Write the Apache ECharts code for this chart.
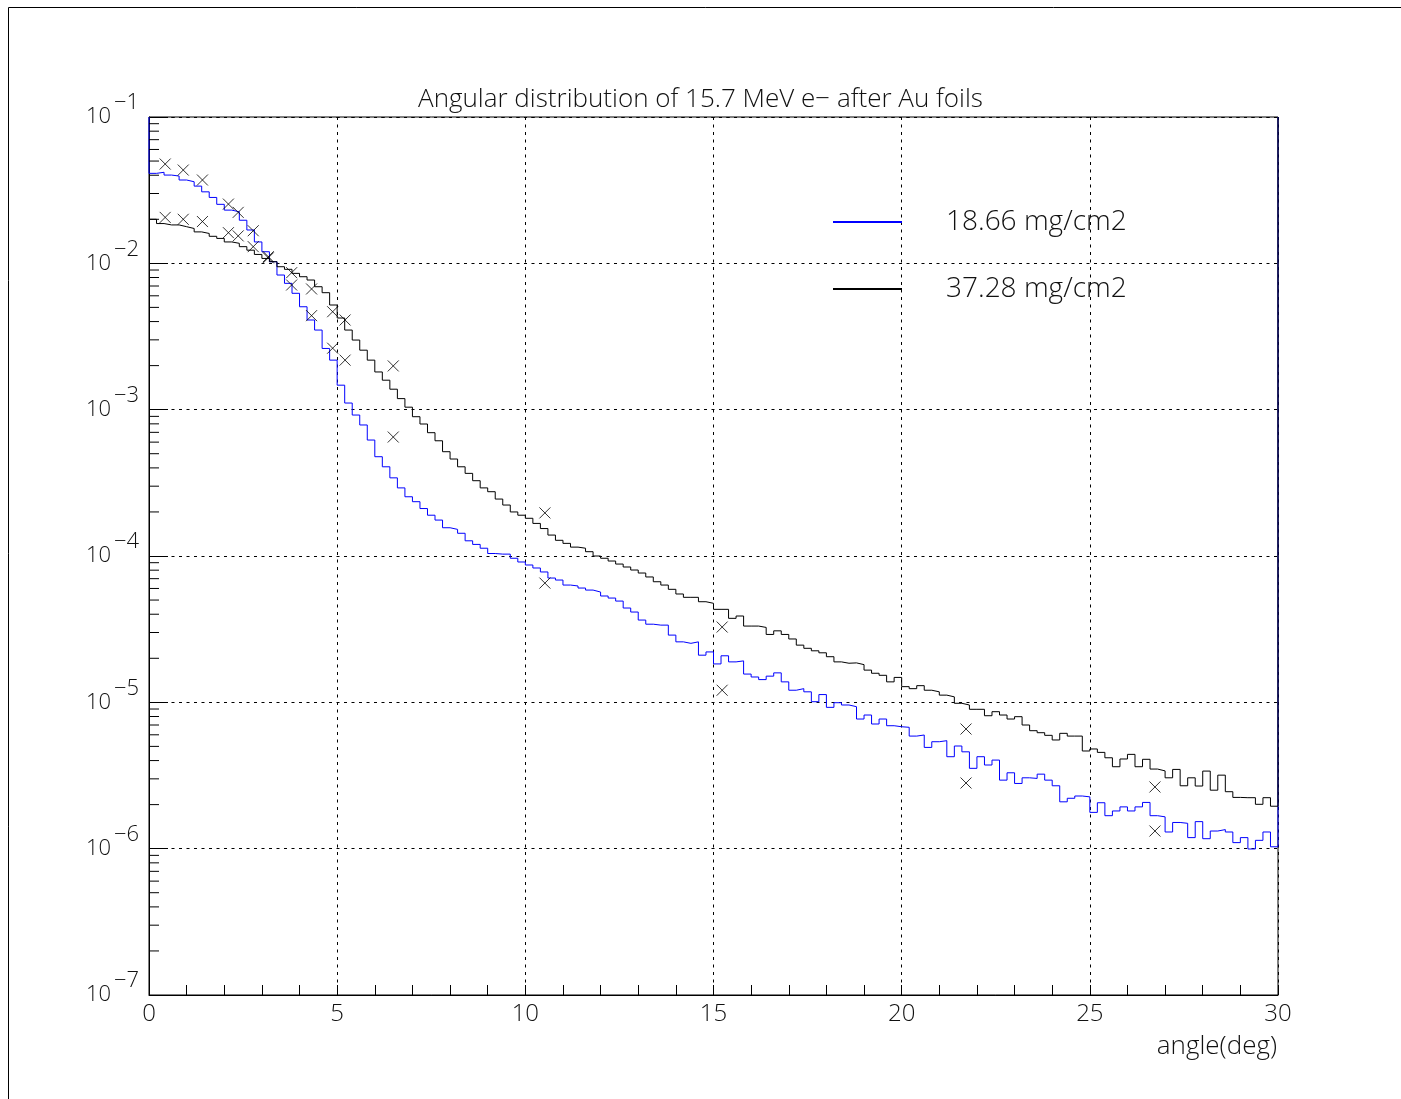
<!DOCTYPE html>
<html><head><meta charset="utf-8">
<script src="https://cdn.jsdelivr.net/npm/echarts@6/dist/echarts.min.js"></script>
<style>html,body{margin:0;padding:0;background:#fff}#c{width:1401px;height:1099px}</style>
</head><body><div id="c"></div>
<script>
// ---- data ----
const legendLabels = ['18.66 mg/cm2', '37.28 mg/cm2'];
const BIN_WIDTH = 0.2; // histogram bin width (deg), 150 bins over 0..30
const contourClose = 0.1; // histogram contours run up to the top of the frame at the edges
const histThin = [
0.0412,0.0419,0.0401,0.0395,0.0371,0.0361,0.0337,0.0308,0.0282,0.0253,
0.0231,0.0225,0.0197,0.0169,0.0140,0.0120,0.01026,0.00832,0.00730,0.00624,
0.00505,0.00410,0.00350,0.00262,0.00218,0.00147,0.00111,0.000919,0.000786,0.000620,
0.000477,0.000407,0.000342,0.000292,0.000254,0.000235,0.000211,0.000190,0.000176,0.000156,
0.000152,0.000143,0.000127,0.000120,0.000113,0.000104,0.000103,0.000103,9.65e-5,9.10e-5,
8.68e-5,8.28e-5,7.78e-5,7.07e-5,6.85e-5,6.33e-5,6.24e-5,6.04e-5,5.85e-5,5.67e-5,
5.33e-5,5.16e-5,4.92e-5,4.41e-5,4.14e-5,3.65e-5,3.42e-5,3.37e-5,3.37e-5,2.88e-5,
2.59e-5,2.53e-5,2.59e-5,2.10e-5,2.21e-5,1.83e-5,2.08e-5,1.89e-5,1.92e-5,1.56e-5,
1.49e-5,1.43e-5,1.51e-5,1.59e-5,1.38e-5,1.21e-5,1.24e-5,1.18e-5,1.01e-5,1.13e-5,
9.24e-6,9.94e-6,9.59e-6,9.34e-6,7.69e-6,8.19e-6,7.11e-6,7.69e-6,6.92e-6,6.81e-6,
6.75e-6,5.88e-6,5.98e-6,4.92e-6,5.38e-6,5.47e-6,4.25e-6,5.03e-6,4.59e-6,3.54e-6,
4.25e-6,3.73e-6,4.03e-6,2.94e-6,3.30e-6,2.79e-6,3.05e-6,3.02e-6,3.23e-6,2.94e-6,
2.69e-6,2.09e-6,2.21e-6,2.29e-6,2.26e-6,1.77e-6,2.06e-6,1.68e-6,1.81e-6,1.93e-6,
1.81e-6,1.93e-6,2.07e-6,1.68e-6,1.65e-6,1.30e-6,1.51e-6,1.49e-6,1.19e-6,1.53e-6,
1.17e-6,1.32e-6,1.35e-6,1.30e-6,1.10e-6,1.19e-6,9.95e-7,1.14e-6,1.30e-6,1.03e-6
];
const histThick = [
0.0200,0.0187,0.0183,0.0183,0.0178,0.0173,0.0164,0.0160,0.0153,0.0148,
0.0140,0.0137,0.0130,0.0123,0.0115,0.0108,0.01026,0.00948,0.00910,0.00854,
0.00810,0.00769,0.00692,0.00630,0.00519,0.00423,0.00350,0.00299,0.00255,0.00218,
0.00181,0.00159,0.00138,0.00119,0.00104,0.000895,0.000798,0.000696,0.000613,0.000516,
0.000460,0.000407,0.000367,0.000327,0.000292,0.000275,0.000245,0.000223,0.000200,0.000190,
0.000181,0.000167,0.000154,0.000139,0.000128,0.000122,0.000115,0.000113,0.000107,0.000100,
9.65e-5,9.24e-5,8.81e-5,8.41e-5,8.02e-5,7.65e-5,7.19e-5,6.67e-5,6.33e-5,5.92e-5,
5.50e-5,5.22e-5,5.22e-5,4.87e-5,4.75e-5,4.32e-5,4.32e-5,3.75e-5,3.89e-5,3.32e-5,
3.32e-5,3.25e-5,2.91e-5,3.08e-5,2.91e-5,2.71e-5,2.46e-5,2.34e-5,2.25e-5,2.18e-5,
2.05e-5,1.89e-5,1.85e-5,1.86e-5,1.81e-5,1.66e-5,1.58e-5,1.53e-5,1.38e-5,1.48e-5,
1.28e-5,1.24e-5,1.30e-5,1.21e-5,1.18e-5,1.12e-5,1.09e-5,9.85e-6,9.59e-6,8.96e-6,
8.96e-6,8.10e-6,8.63e-6,8.19e-6,7.69e-6,7.98e-6,7.00e-6,6.40e-6,6.20e-6,5.95e-6,
5.53e-6,6.14e-6,5.88e-6,5.88e-6,4.65e-6,4.80e-6,4.55e-6,4.18e-6,3.63e-6,4.10e-6,
4.41e-6,3.63e-6,4.08e-6,3.50e-6,3.40e-6,3.05e-6,3.48e-6,2.69e-6,3.05e-6,2.68e-6,
3.39e-6,2.51e-6,3.18e-6,2.45e-6,2.24e-6,2.23e-6,2.23e-6,2.01e-6,2.23e-6,1.95e-6
];
// measured points (x markers)
const measuredAngles = [0.43,0.91,1.42,2.11,2.37,2.77,3.17,3.79,4.32,4.88,5.21,6.49,10.52,15.23,21.71,26.73];
const measuredThin  = [0.0477,0.0434,0.0371,0.0254,0.0223,0.0167,0.0111,0.00711,0.00439,0.00263,0.00218,0.000650,6.53e-5,1.21e-5,2.81e-6,1.32e-6];
const measuredThick = [0.0206,0.0200,0.0193,0.0162,0.0154,0.0130,0.0109,0.00863,0.00668,0.00467,0.00410,0.00199,1.97e-4,3.27e-5,6.57e-6,2.64e-6];
const titleText = 'Angular distribution of 15.7 MeV e\u2212 after Au foils';
const xAxisTitle = 'angle(deg)';

// ---- build ----
const FONT = "'Open Sans', Lato, sans-serif";
const TXT = '#111';
function histLine(vals, closeLeft, closeRight) {
  const pts = vals.map((v, i) => [+(i * BIN_WIDTH).toFixed(2), v]);
  const xEnd = +(vals.length * BIN_WIDTH).toFixed(2);
  pts.push([xEnd, vals[vals.length - 1]]);
  if (closeLeft != null) pts.unshift([0, closeLeft]);
  if (closeRight != null) pts.push([xEnd, closeRight]);
  return pts;
}
const minorY = [];
for (let e = -7; e <= -2; e++) for (let m = 2; m <= 9; m++) minorY.push([0, m * Math.pow(10, e)]);

const chart = echarts.init(document.getElementById('c'), null, {renderer: 'canvas'});
const cross = 'path://M0,0L10,10M10,0L0,10';
const lbl = {fontFamily: FONT, fontWeight: 300, color: TXT};
chart.setOption({
  animation: false,
  backgroundColor: '#fff',
  title: {
    text: titleText, left: 'center', top: 82,
    textStyle: Object.assign({fontSize: 26}, lbl)
  },
  legend: {
    orient: 'vertical', left: 832, top: 208, padding: 0,
    itemWidth: 69, itemHeight: 9, itemGap: 39,
    itemStyle: {opacity: 0, borderWidth: 0},
    data: legendLabels,
    textStyle: Object.assign({fontSize: 28, padding: [0, 0, 0, 39], lineHeight: 22}, lbl)
  },
  grid: {left: 149, right: 123, top: 117, bottom: 104, show: true, borderColor: '#000', borderWidth: 1},
  xAxis: {
    type: 'value', min: 0, max: 30, interval: 5,
    axisLine: {lineStyle: {color: '#000', width: 1}},
    axisTick: {inside: true, length: 10, lineStyle: {color: '#000'}},
    minorTick: {show: true, splitNumber: 5, length: 10, lineStyle: {color: '#000'}},
    axisLabel: Object.assign({fontSize: 24, margin: 7}, lbl),
    splitLine: {show: true, lineStyle: {color: '#000', type: [3, 4.5], width: 1}}
  },
  yAxis: {
    type: 'log', logBase: 10, min: 1e-7, max: 1e-1,
    axisLine: {lineStyle: {color: '#000', width: 1}},
    axisTick: {inside: true, length: 19, lineStyle: {color: '#000'}},
    axisLabel: {
      margin: 10,
      formatter: v => '{s| }{e|\u2212' + (-Math.round(Math.log10(v))) + '}\n{m|10}{t| }\n{b| }',
      rich: {
        s: Object.assign({fontSize: 22, width: 33, lineHeight: 4}, lbl),
        e: Object.assign({fontSize: 22, width: 28, lineHeight: 4}, lbl),
        m: Object.assign({fontSize: 22, width: 33, lineHeight: 24}, lbl),
        t: Object.assign({fontSize: 22, width: 28, lineHeight: 24}, lbl),
        b: Object.assign({fontSize: 4, lineHeight: 4}, lbl)
      }
    },
    splitLine: {show: true, lineStyle: {color: '#000', type: [3, 4.5], width: 1}}
  },
  series: [
    {name: legendLabels[0], type: 'line', step: 'end', data: histLine(histThin, contourClose, contourClose),
     symbol: 'none', showSymbol: false,
     lineStyle: {color: '#0000ff', width: 1}, itemStyle: {color: '#0000ff'}, z: 3},
    {name: legendLabels[1], type: 'line', step: 'end', data: histLine(histThick, null, contourClose),
     symbol: 'none', showSymbol: false,
     lineStyle: {color: '#000', width: 1}, itemStyle: {color: '#000'}, z: 4},
    {name: 'thin data', type: 'scatter', symbol: cross, symbolSize: 11,
     data: measuredAngles.map((a, i) => [a, measuredThin[i]]),
     itemStyle: {color: 'rgba(0,0,0,0)', borderColor: '#000', borderWidth: 1}, z: 5},
    {name: 'thick data', type: 'scatter', symbol: cross, symbolSize: 11,
     data: measuredAngles.map((a, i) => [a, measuredThick[i]]),
     itemStyle: {color: 'rgba(0,0,0,0)', borderColor: '#000', borderWidth: 1}, z: 5},
    {name: 'minor', type: 'custom', data: minorY, silent: true, z: 6,
     renderItem: (params, api) => {
       const p = api.coord([api.value(0), api.value(1)]);
       return {type: 'line', shape: {x1: p[0], y1: p[1], x2: p[0] + 10, y2: p[1]}, style: {stroke: '#000', lineWidth: 1}};
     }}
  ],
  graphic: [
    {type: 'rect', shape: {x: 8.5, y: 7.5, width: 1500, height: 1200}, style: {fill: 'none', stroke: '#000', lineWidth: 1}, silent: true},
    {type: 'text', x: 1277, y: 1047, style: {text: xAxisTitle, font: '300 26px ' + FONT, fill: TXT, align: 'right', verticalAlign: 'middle'}}
  ]
});
</script></body></html>
